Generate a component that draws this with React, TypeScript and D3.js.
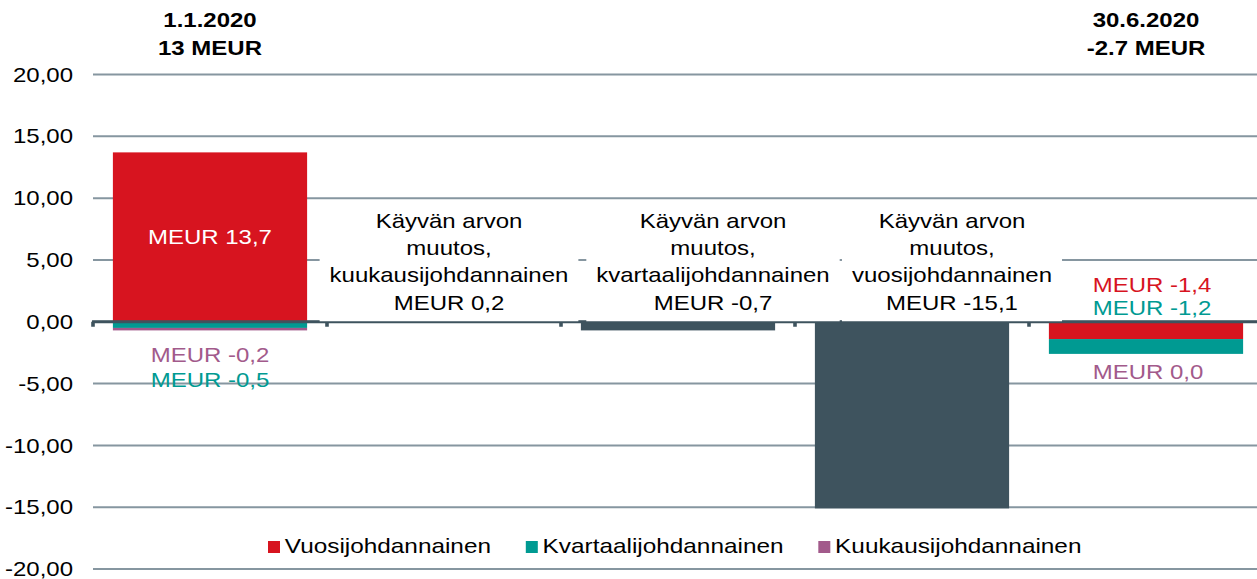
import React, { useEffect, useRef } from 'react';
import * as d3 from 'd3';

// Chart values
const categories = ['1.1.2020', 'Kuukausi', 'Kvartaali', 'Vuosi', '30.6.2020'];
const vuosiValues = [13.7, 0, 0, 0, -1.4];
const kvartaaliValues = [-0.5, 0, 0, 0, -1.2];
const kuukausiValues = [-0.2, 0, 0, 0, 0.0];
const fairValueChanges = [0, 0.2, -0.7, -15.1, 0];
const yTicks = [-20, -15, -10, -5, 0, 5, 10, 15, 20];
const headerLabels = [['1.1.2020', '13 MEUR'], null, null, null, ['30.6.2020', '-2.7 MEUR']];
const changeLabels = [
  null,
  ['Käyvän arvon', 'muutos,', 'kuukausijohdannainen', 'MEUR 0,2'],
  ['Käyvän arvon', 'muutos,', 'kvartaalijohdannainen', 'MEUR -0,7'],
  ['Käyvän arvon', 'muutos,', 'vuosijohdannainen', 'MEUR -15,1'],
  null,
];
const seriesKeys = ['vuosi', 'kvartaali', 'kuukausi'];
const legendNames = ['Vuosijohdannainen', 'Kvartaalijohdannainen', 'Kuukausijohdannainen'];

const fmt = (v: number) => 'MEUR ' + v.toFixed(1).replace('.', ',');

const App = () => {
  const svgRef = useRef<SVGSVGElement>(null);

  useEffect(() => {
    // text in the original is stretched sideways, so draw in a narrower viewBox
    const sx = 1.2;
    const W = 1257 / sx;
    const font = '"Liberation Sans", Arial, sans-serif';
    const colors: Record<string, string> = { vuosi: '#d7141f', kvartaali: '#009a92', kuukausi: '#a25a8b' };
    const dark = '#3e535e';

    const svg = d3.select(svgRef.current);
    svg.selectAll('*').remove();

    const x = d3.scaleBand<string>()
      .domain(categories)
      .range([93 / sx, 1263 / sx])
      .paddingInner(0.17)
      .paddingOuter(0.085);
    const y = d3.scaleLinear().domain([-20, 20]).range([569, 74.5]);
    const y0 = y(0);
    const step = x.step();
    const cx = (c: string) => (x(c) as number) + x.bandwidth() / 2;

    // grid lines
    svg.append('g')
      .selectAll('line')
      .data(yTicks)
      .join('line')
      .attr('x1', 93 / sx)
      .attr('x2', W)
      .attr('y1', d => y(d))
      .attr('y2', d => y(d))
      .attr('stroke', '#8696a0')
      .attr('stroke-width', 2);

    // y tick labels
    svg.append('g')
      .selectAll('text')
      .data(yTicks)
      .join('text')
      .attr('x', 73 / sx)
      .attr('y', d => y(d))
      .attr('dy', '0.36em')
      .attr('text-anchor', 'end')
      .attr('font-family', font)
      .attr('font-size', 20)
      .attr('fill', '#000')
      .text(d => d.toFixed(2).replace('.', ','));

    // stacked derivative bars
    const rows = categories.map((c, i) => ({
      cat: c,
      vuosi: vuosiValues[i],
      kvartaali: kvartaaliValues[i],
      kuukausi: kuukausiValues[i],
    }));
    const stacked = d3.stack<any>().keys(seriesKeys).offset(d3.stackOffsetDiverging)(rows);
    stacked.forEach(s => {
      svg.append('g')
        .selectAll('rect')
        .data(s)
        .join('rect')
        .attr('x', d => x(d.data.cat) as number)
        .attr('width', x.bandwidth())
        .attr('y', d => y(Math.max(d[0], d[1])))
        .attr('height', d => Math.abs(y(d[0]) - y(d[1])))
        .attr('fill', colors[s.key]);
    });

    // fair value change bars
    svg.append('g')
      .selectAll('rect')
      .data(categories.map((c, i) => ({ cat: c, v: fairValueChanges[i] })))
      .join('rect')
      .attr('x', d => x(d.cat) as number)
      .attr('width', x.bandwidth())
      .attr('y', d => y(Math.max(0, d.v)))
      .attr('height', d => Math.abs(y(d.v) - y0))
      .attr('fill', dark);

    // category axis with ticks at the boundaries
    svg.append('line')
      .attr('x1', 92 / sx)
      .attr('x2', W)
      .attr('y1', y0)
      .attr('y2', y0)
      .attr('stroke', dark)
      .attr('stroke-width', 3);
    svg.append('g')
      .selectAll('line')
      .data(categories)
      .join('line')
      .attr('x1', d => (x(d) as number) - (step * 0.17) / 2)
      .attr('x2', d => (x(d) as number) - (step * 0.17) / 2)
      .attr('y1', y0)
      .attr('y2', y0 + 5)
      .attr('stroke', dark)
      .attr('stroke-width', 3);

    // white-backed change labels
    const labelShift = [0, 5, 35, 40, 0];
    const lineGap = 27.3;
    changeLabels.forEach((lines, i) => {
      if (!lines) return;
      const lx = cx(categories[i]) + labelShift[i] / sx;
      const g = svg.append('g');
      const box = g.append('rect').attr('fill', '#fff');
      const t = g.append('text')
        .attr('text-anchor', 'middle')
        .attr('font-family', font)
        .attr('font-size', 20)
        .attr('fill', '#000');
      lines.forEach((ln, k) => {
        t.append('tspan')
          .attr('x', lx)
          .attr('y', y0 - 94 + k * lineGap)
          .text(ln);
      });
      const bb = (t.node() as SVGTextElement).getBBox();
      const pad = 10 / sx;
      box.attr('x', bb.x - pad)
        .attr('width', bb.width + pad * 2)
        .attr('y', y0 - 117)
        .attr('height', 116.5);
    });

    // value labels of stacked bars
    const c0 = categories[0];
    const c4 = categories[4];
    svg.append('text')
      .attr('x', cx(c0))
      .attr('y', (y(vuosiValues[0]) + y0) / 2 + 7)
      .attr('text-anchor', 'middle')
      .attr('font-family', font)
      .attr('font-size', 20)
      .attr('fill', '#fff')
      .text(fmt(vuosiValues[0]));
    const small = [
      { c: c0, dx: 0, yy: y0 + 40, v: kuukausiValues[0], key: 'kuukausi' },
      { c: c0, dx: 0, yy: y0 + 65.5, v: kvartaaliValues[0], key: 'kvartaali' },
      { c: c4, dx: 6, yy: y0 - 30, v: vuosiValues[4], key: 'vuosi' },
      { c: c4, dx: 6, yy: y0 - 7, v: kvartaaliValues[4], key: 'kvartaali' },
      { c: c4, dx: 2, yy: y(vuosiValues[4] + kvartaaliValues[4]) + 25, v: kuukausiValues[4], key: 'kuukausi' },
    ];
    svg.append('g')
      .selectAll('text')
      .data(small)
      .join('text')
      .attr('x', d => cx(d.c) + d.dx / sx)
      .attr('y', d => d.yy)
      .attr('text-anchor', 'middle')
      .attr('font-family', font)
      .attr('font-size', 20)
      .attr('fill', d => colors[d.key])
      .text(d => fmt(d.v));

    // header labels (start and end balances)
    headerLabels.forEach((lines, i) => {
      if (!lines) return;
      lines.forEach((ln, k) => {
        svg.append('text')
          .attr('x', cx(categories[i]))
          .attr('y', 27 + k * 28)
          .attr('text-anchor', 'middle')
          .attr('font-family', font)
          .attr('font-size', 20)
          .attr('font-weight', 'bold')
          .attr('fill', '#000')
          .text(ln);
      });
    });

    // legend
    let lx = 268 / sx;
    legendNames.forEach((name, i) => {
      const g = svg.append('g');
      g.append('rect')
        .attr('x', lx)
        .attr('y', 541)
        .attr('width', 10)
        .attr('height', 12)
        .attr('fill', colors[seriesKeys[i]]);
      const t = g.append('text')
        .attr('x', lx + 14)
        .attr('y', 553)
        .attr('font-family', font)
        .attr('font-size', 20.3)
        .attr('fill', '#000')
        .text(name);
      lx += 14 + (t.node() as SVGTextElement).getComputedTextLength() + 29;
    });
  }, []);

  return (
    <svg
      ref={svgRef}
      width={1257}
      height={579}
      viewBox={`0 0 ${1257 / 1.2} 579`}
      preserveAspectRatio="none"
      style={{ position: 'absolute', left: 0, top: 0, background: '#fff' }}
    />
  );
};

export default App;
